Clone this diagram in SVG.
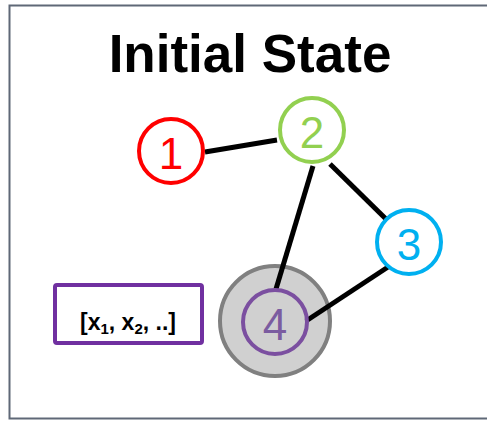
<svg xmlns="http://www.w3.org/2000/svg" width="487" height="421" viewBox="0 0 487 421">
<style>
.num{font-family:"Liberation Sans",Arial,sans-serif;font-size:44px;text-anchor:middle;dominant-baseline:central}
.ring{stroke-width:4;fill:#fff}
.edge{stroke:#000;stroke-width:5;fill:none}
</style>
<rect x="0" y="0" width="487" height="421" fill="#fff"/>
<rect id="frame" x="9.5" y="5.5" width="490" height="413" fill="#fff" stroke="#5f6877" stroke-width="2"/>
<text id="title" x="250" y="72" font-family="Liberation Sans,Arial,sans-serif" font-weight="bold" font-size="53" text-anchor="middle">Initial State</text>
<g id="node4-bg">
<circle cx="275" cy="321" r="55" fill="#d0d0d0" stroke="#808080" stroke-width="4"/>
</g>
<g id="connectors">
<line class="edge" x1="205" y1="152" x2="277" y2="140"/>
<line class="edge" x1="330" y1="164" x2="388" y2="221"/>
<line class="edge" x1="313" y1="166" x2="276" y2="289"/>
<line class="edge" x1="388" y1="267" x2="306" y2="321"/>
</g>
<g id="node1">
<circle class="ring" cx="171" cy="151" r="32" stroke="#ff0000"/>
<text class="num" x="171" y="153" fill="#ff0000">1</text>
</g>
<g id="node2">
<circle class="ring" cx="312" cy="130" r="32" stroke="#92d050"/>
<text class="num" x="312" y="132" fill="#92d050">2</text>
</g>
<g id="node3">
<circle class="ring" cx="409" cy="242" r="32" stroke="#00b0f0"/>
<text class="num" x="409" y="244" fill="#00b0f0">3</text>
</g>
<g id="node4">
<circle cx="275" cy="322" r="32" fill="none" stroke="#7b4fa0" stroke-width="4"/>
<text class="num" x="275" y="324" fill="#7b5ca0">4</text>
</g>
<g id="vector">
<rect x="55" y="285" width="147" height="58" rx="2" fill="#fff" stroke="#7030a0" stroke-width="4"/>
<text x="128" y="330" font-family="Liberation Sans,Arial,sans-serif" font-weight="bold" font-size="23" text-anchor="middle">[x<tspan font-size="15" dy="4">1</tspan><tspan dy="-4">, x</tspan><tspan font-size="15" dy="4">2</tspan><tspan dy="-4">, ..]</tspan></text>
</g>
</svg>
